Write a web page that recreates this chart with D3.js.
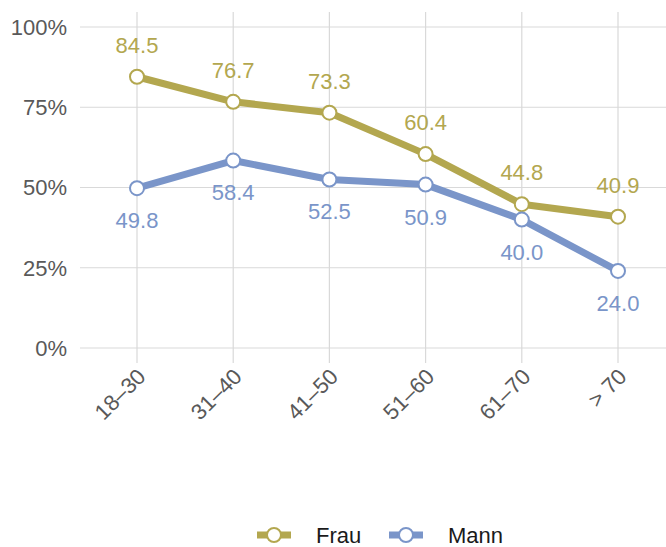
<!DOCTYPE html>
<html>
<head>
<meta charset="utf-8">
<script src="https://cdn.jsdelivr.net/npm/d3@7"></script>
<style>
  body { margin: 0; background: #fff; }
  svg text { font-family: "Liberation Sans", Arial, sans-serif; }
</style>
</head>
<body>
<div id="chart"></div>
<script>
var categories = ["18–30", "31–40", "41–50", "51–60", "61–70", "> 70"];
var frau = [84.5, 76.7, 73.3, 60.4, 44.8, 40.9];
var mann = [49.8, 58.4, 52.5, 50.9, 40.0, 24.0];
var yTicks = [0, 25, 50, 75, 100];

var series = [
  {name: "Frau", values: frau, color: "#b3a74f", labelDy: -32},
  {name: "Mann", values: mann, color: "#7a95c9", labelDy: 32}
];

var width = 666, height = 547;
var svg = d3.select("#chart").append("svg")
  .attr("width", width).attr("height", height);

var x = d3.scalePoint().domain(categories).range([137, 618]);
var y = d3.scaleLinear().domain([0, 100]).range([348, 27]);

// grid
var grid = svg.append("g");
grid.selectAll("line.h").data(yTicks).enter().append("line")
  .attr("x1", 80).attr("x2", width)
  .attr("y1", function(d){ return y(d); }).attr("y2", function(d){ return y(d); })
  .style("stroke", "#d9d9d9").style("stroke-width", 1.2);
grid.selectAll("line.v").data(categories).enter().append("line")
  .attr("x1", function(d){ return x(d); }).attr("x2", function(d){ return x(d); })
  .attr("y1", 12).attr("y2", 363)
  .style("stroke", "#d9d9d9").style("stroke-width", 1.2);

// y axis labels
svg.append("g").selectAll("text").data(yTicks).enter().append("text")
  .attr("x", 67).attr("y", function(d){ return y(d); })
  .attr("dy", "0.36em")
  .attr("text-anchor", "end")
  .style("font-size", "22px").style("fill", "#595959")
  .text(function(d){ return d + "%"; });

// x axis labels
svg.append("g").selectAll("text").data(categories).enter().append("text")
  .attr("transform", function(d){ return "translate(" + (x(d) + 10) + ",378) rotate(-45)"; })
  .attr("text-anchor", "end")
  .style("font-size", "22px").style("fill", "#595959")
  .text(function(d){ return d; });

var line = d3.line()
  .x(function(d, i){ return x(categories[i]); })
  .y(function(d){ return y(d); });

series.forEach(function(s){
  var g = svg.append("g");
  g.append("path").datum(s.values)
    .attr("d", line)
    .style("fill", "none").style("stroke", s.color)
    .style("stroke-width", 7).style("stroke-linejoin", "round");
  g.selectAll("circle").data(s.values).enter().append("circle")
    .attr("cx", function(d, i){ return x(categories[i]); })
    .attr("cy", function(d){ return y(d); })
    .attr("r", 7)
    .style("fill", "#fff").style("stroke", s.color).style("stroke-width", 2);
  g.selectAll("text").data(s.values).enter().append("text")
    .attr("x", function(d, i){ return x(categories[i]); })
    .attr("y", function(d){ return y(d) + s.labelDy; })
    .attr("dy", "0.36em")
    .attr("text-anchor", "middle")
    .style("font-size", "22px").style("fill", s.color)
    .text(function(d){ return d.toFixed(1); });
});

// legend
var legendX = [257, 389];
var leg = svg.append("g").selectAll("g").data(series).enter().append("g")
  .attr("transform", function(d, i){ return "translate(" + legendX[i] + ",535)"; });
leg.append("line").attr("x1", 0).attr("x2", 34)
  .style("stroke", function(d){ return d.color; }).style("stroke-width", 7);
leg.append("circle").attr("cx", 17).attr("r", 7)
  .style("fill", "#fff").style("stroke", function(d){ return d.color; }).style("stroke-width", 2);
leg.append("text").attr("x", 59).attr("dy", "0.36em")
  .style("font-size", "22px").style("fill", "#1a1a1a")
  .text(function(d){ return d.name; });
</script>
</body>
</html>
